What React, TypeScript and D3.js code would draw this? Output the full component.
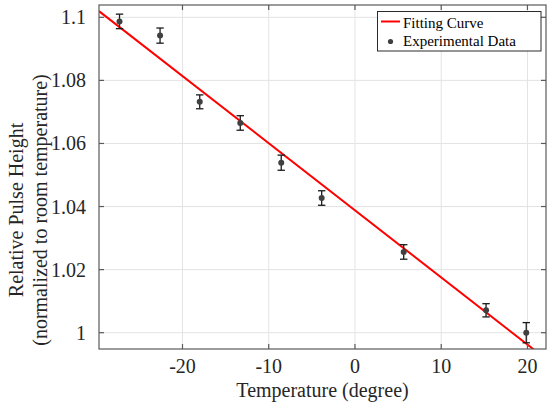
import React from "react";
import * as d3 from "d3";

const temperatures = [-27.3, -22.6, -18.0, -13.3, -8.55, -3.86, 5.65, 15.2, 19.86];
const pulseHeights = [1.0987, 1.0942, 1.0732, 1.0665, 1.0539, 1.0427, 1.0256, 1.0071, 1.0];
const errors = [0.0023, 0.0024, 0.0022, 0.0023, 0.0024, 0.0023, 0.0023, 0.0021, 0.0032];
const fitIntercept = 1.0388;
const fitSlope = -0.002128;
const xTicks = [-20, -10, 0, 10, 20];
const yTicks = [1.0, 1.02, 1.04, 1.06, 1.08, 1.1];
const xTickLabels = ["-20", "-10", "0", "10", "20"];
const yTickLabels = ["1", "1.02", "1.04", "1.06", "1.08", "1.1"];
const xDomain = [-29.68, 22.15];
const yDomain = [0.99483, 1.1039];

const W = 547, H = 409;
const L = 99, R = 546, T = 5, B = 349;
const FONT = "'Liberation Serif', 'Times New Roman', serif";

export default function App() {
  const x = d3.scaleLinear().domain(xDomain).range([L, R]);
  const y = d3.scaleLinear().domain(yDomain).range([B, T]);
  const fitData = xDomain.map((t) => [t, fitIntercept + fitSlope * t] as [number, number]);
  const line = d3.line<[number, number]>().x((d) => x(d[0])).y((d) => y(d[1]));
  const tick = 5;
  const axisColor = "#5a5a5a";
  return (
    <svg width={W} height={H} style={{ position: "absolute", left: 0, top: 0, background: "#fff" }}>
      <defs>
        <clipPath id="plot">
          <rect x={L} y={T} width={R - L} height={B - T} />
        </clipPath>
      </defs>
      <rect x={0} y={0} width={W} height={H} fill="#fff" />
      {xTicks.map((t) => (
        <line key={"gx" + t} x1={x(t)} x2={x(t)} y1={T} y2={B} stroke="#e3e3e3" strokeWidth={1} />
      ))}
      {yTicks.map((t) => (
        <line key={"gy" + t} x1={L} x2={R} y1={y(t)} y2={y(t)} stroke="#e3e3e3" strokeWidth={1} />
      ))}
      <path d={line(fitData) || ""} stroke="#ff0000" strokeWidth={2} fill="none" clipPath="url(#plot)" />
      {temperatures.map((t, i) => {
        const cx = x(t);
        const y1 = y(pulseHeights[i] + errors[i]);
        const y2 = y(pulseHeights[i] - errors[i]);
        return (
          <g key={"e" + i} stroke="#1a1a1a" strokeWidth={1.3}>
            <line x1={cx} x2={cx} y1={y1} y2={y2} />
            <line x1={cx - 3.7} x2={cx + 3.7} y1={y1} y2={y1} />
            <line x1={cx - 3.7} x2={cx + 3.7} y1={y2} y2={y2} />
          </g>
        );
      })}
      {temperatures.map((t, i) => (
        <circle key={"p" + i} cx={x(t)} cy={y(pulseHeights[i])} r={3} fill="#404040" />
      ))}
      <rect x={L} y={T} width={R - L} height={B - T} fill="none" stroke={axisColor} strokeWidth={1.2} />
      {xTicks.map((t) => (
        <g key={"tx" + t} stroke={axisColor} strokeWidth={1.2}>
          <line x1={x(t)} x2={x(t)} y1={B} y2={B - tick} />
          <line x1={x(t)} x2={x(t)} y1={T} y2={T + tick} />
        </g>
      ))}
      {yTicks.map((t) => (
        <g key={"ty" + t} stroke={axisColor} strokeWidth={1.2}>
          <line x1={L} x2={L + tick} y1={y(t)} y2={y(t)} />
          <line x1={R} x2={R - tick} y1={y(t)} y2={y(t)} />
        </g>
      ))}
      {xTicks.map((t, i) => (
        <text key={"lx" + t} x={x(t)} y={373} textAnchor="middle" fontFamily={FONT} fontSize={20} fill="#262626">
          {xTickLabels[i]}
        </text>
      ))}
      {yTicks.map((t, i) => (
        <text key={"ly" + t} x={86} y={y(t) + 7} textAnchor="end" fontFamily={FONT} fontSize={20} fill="#262626">
          {yTickLabels[i]}
        </text>
      ))}
      <text x={(L + R) / 2} y={397} textAnchor="middle" fontFamily={FONT} fontSize={20} fill="#262626">
        Temperature (degree)
      </text>
      <g transform={`translate(22.5, 210) rotate(-90)`}>
        <text x={0} y={0} textAnchor="middle" fontFamily={FONT} fontSize={20} fill="#262626">
          Relative Pulse Height
        </text>
        <text x={0} y={24} textAnchor="middle" fontFamily={FONT} fontSize={20} fill="#262626">
          (normalized to room temperature)
        </text>
      </g>
      <rect x={377.5} y={11.5} width={163.5} height={39.5} fill="#fff" stroke="#2a2a2a" strokeWidth={1} />
      <line x1={381} x2={400} y1={21.5} y2={21.5} stroke="#ff0000" strokeWidth={2} />
      <circle cx={390.5} cy={41.5} r={2.6} fill="#404040" />
      <text x={403} y={27.5} fontFamily={FONT} fontSize={15} fill="#000">Fitting Curve</text>
      <text x={403} y={46} fontFamily={FONT} fontSize={15} fill="#000">Experimental Data</text>
    </svg>
  );
}
